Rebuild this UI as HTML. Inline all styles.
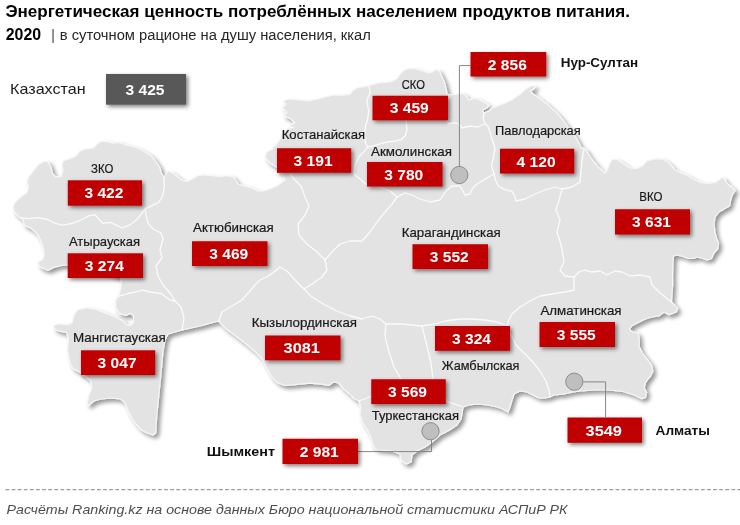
<!DOCTYPE html>
<html lang="ru"><head><meta charset="utf-8"><title>Энергетическая ценность</title>
<style>
html,body{margin:0;padding:0;background:#fff;}
body{width:740px;height:525px;overflow:hidden;position:relative;font-family:"Liberation Sans",sans-serif;}
svg{position:absolute;left:0;top:0;}
.t{font-family:"Liberation Sans",sans-serif;}
</style></head><body>
<svg width="740" height="525" viewBox="0 0 740 525">
<defs>
<filter id="ms" x="-5%" y="-5%" width="110%" height="112%"><feGaussianBlur in="SourceAlpha" stdDeviation="2.2"/><feOffset dx="2.5" dy="3"/><feComponentTransfer><feFuncA type="linear" slope="0.42"/></feComponentTransfer><feMerge><feMergeNode/><feMergeNode in="SourceGraphic"/></feMerge></filter>
<filter id="bs" x="-10%" y="-20%" width="125%" height="160%"><feGaussianBlur in="SourceAlpha" stdDeviation="2.2"/><feOffset dx="2.4" dy="2.4"/><feComponentTransfer><feFuncA type="linear" slope="0.52"/></feComponentTransfer><feMerge><feMergeNode/><feMergeNode in="SourceGraphic"/></feMerge></filter>
</defs>
<polygon points="13.3,206.2 15.2,202.4 21,196.7 26.7,193 28.6,187 26.7,181.4 29.5,175.7 33.3,171 38,165.2 43,161.4 47.6,161.4 50.5,166.2 52.4,173 55.2,176.7 61,176.7 63,171 62,164.3 63.8,160.5 70.5,158.6 76.2,155.7 80,151 85.7,149 93.3,148 97,144.3 101,141.4 106.7,141.4 112.4,143.3 118,142.4 123.8,144.3 131.4,146.2 137.6,148 145.2,152 151,155.7 155.7,161.4 159.5,167 161.4,173 164,178.6 166,174 168,171 173,173 177.6,176.7 182.4,180.5 187,181.4 193,178.6 197.6,175.7 204.3,174.8 212,175.7 219.5,176.7 227,175.7 233,176.7 235.7,180.5 238.6,184.3 244.3,186.2 252,188 257.6,191 263.3,191 270,189 277,186 285,180 283,174 278,168 270,163 265,157 267,152 272,149.5 276.7,143.8 281,138 283,132 288,128.5 293.8,127.6 289,125.7 294.8,122.9 291,119 283.3,115.2 287,112.4 282.4,107.6 286.2,104.8 283.3,101 289,99 298.6,100 308,101 317.6,99 325.2,97 333,95.2 342.4,95.2 350,94.3 353,90.5 357.6,87.6 365.2,86.7 371,84.8 378.6,83 385.4,82.4 392,81.5 397.6,78.5 400,74 404.5,70 409.7,68.5 416.5,69 423,71 428.6,73 432.7,71.6 435.4,69.6 438.8,70.3 440.8,74.3 442.8,78.4 445,83.8 446.2,89.2 447,94 449.7,95 455.7,94.3 462.6,93.4 467,97 468.6,100.3 473,98.6 477,98.6 481.4,101 486.6,103.7 489,105.4 486.6,108 482.3,110.6 484,113 488.3,111.4 492.6,108 498.6,105.4 505.4,103 511.4,100.3 515.7,97 521,93.4 526,88.6 531,86 535.5,86 533.3,89.3 530.5,91.3 533,94 539.7,98.6 546.6,103.7 548.6,105.7 556.2,112.4 562,119 567.6,126.7 573.3,133.3 578,141 581,147.6 585.7,149.5 588.6,154.3 592.4,160 597,165.7 602,170.5 605,173.4 608,168.5 610,163 611.8,159.8 616.4,159 622.4,163 629.5,167.8 636.6,168.5 642.7,165.6 646.8,161 654.9,158.8 663,159 669,163 675.1,170 681.2,173 687.3,175.2 693.4,179.2 699.5,182.3 707.6,183.3 715.7,182.3 719.7,179.2 721.8,177.2 724.8,179.2 726.8,183.3 731.9,187.3 735,190.5 731.9,195.7 730.5,201 729.5,206 724,209 719,212 715,217 714,224 715,233 716.5,238.5 718.5,243 718,248.5 714,253 711.5,258.5 707,260 701.5,258 697,257 693,258.5 688.5,258.5 683,256.5 677,255 673.5,256 673,261.5 672.5,275 672.6,285 671.4,302 677.6,308.4 676.3,312 669,314.6 664,312 659,315.8 651.6,317 644.2,319.5 636.7,323.2 631.8,325.7 629.3,329.4 633,332 638,333 639.2,339.3 639.2,346.7 643,354.2 648,360.3 651.6,365.3 652.8,371.5 650.3,376.4 648,379 645.4,382.6 644.2,387.6 646.6,392.5 645.4,397.5 641.7,398.7 634.3,395 622,391.3 609.5,390 595,390 580,391 573,392 564,394 554,395 550,397 545,398 539,398 533,395 527,392 520,391 514,394 512,400 510,407 508,412 503,409 497,407 488,405 478,404 469,405 463,407 462,413 461,419 457,425 451,429 446,432 440,435 432,442 425,447 417,451 412,455 411,462 406,464 401,460 400,454 392,451 382,450 376,449.5 372.4,444 370.5,436 366.7,428.6 363,423 360,415 361,407.6 359,401 354,398.5 350.9,395 343.6,389 338.7,383 333.8,381.8 329,385.3 321.7,384.1 309.5,383.2 297.3,384.3 285.2,385.5 277.9,383 271.8,376.8 266.9,368.3 262,358.5 254.7,351.2 246.2,344 236.5,336.6 226.8,329.3 218.5,321 200,326 182,330 168,334 165,340 163,351 160.5,378 158.6,397 156.7,416 155.7,433 153,435 147,433 141,429.5 136,424 132,418 128,410.5 125,403 120.5,399 111,398 101,399 94,401 88,405.5 87,403 89,395 92,387.5 91,381 86,377 80.5,372.5 73,368.5 70,363 67.6,351 68.4,338 66.5,332.3 60.8,331.4 55.1,329.5 53.2,325.7 58.9,323.8 68.4,324.7 72.2,322.8 74,315.3 77.8,309.6 87.3,307.7 96.8,309.6 106.2,313.4 115.7,317.2 123.2,321 126,324.7 129.9,325.7 133.6,322.8 133.6,316.2 130.8,313.4 126,315.3 119.5,313.4 115.7,307.7 115.7,300 118.5,296.4 120.5,290 121.3,285 121.4,278 100,270 67,265 61.4,265.5 53.8,267.4 48,270.2 45.2,269.3 39.5,266.4 37.6,262.6 42.4,259.8 44.3,255 43.3,247.4 40.5,239.8 36.7,233 31,228.3 24.5,225.3 22.9,219.5 19,216.7 14.3,212" fill="#e3e3e3" stroke="#f6f6f6" stroke-width="1.2" stroke-linejoin="round" filter="url(#ms)"/>
<g fill="none" stroke="#fbfbfb" stroke-width="1.3" stroke-linejoin="round" stroke-linecap="round">
<polyline points="20,217.6 28.6,218.6 38,217.6 47.6,219.5 55.2,223.3 63,225.2 72.4,223.3 82,219.5 89.5,215.7 95.2,214.8 99,219.5 103,223.3 110.5,222.4 116.2,225.2 122,228 129.5,225.2 137,219.5 145.2,209"/>
<polyline points="164,178.6 164.3,187 162.4,196.7 158.6,202.4 151,206.2 145.2,209 146.2,215.7 148,223.3 153,229 161,233 163,239 160,250 162,258 156,266 158,276 163,285 170,293 175,301 181,307 184,318 182,330"/>
<polyline points="118.5,296.4 128,293.5 135,292 142,290 150,292 161,293.5 170,300 175,301"/>
<polyline points="290,174 295,180 301,186 305,197 309,206 305,215 298,224 299,235 307,244 317,252 325,260 327,270 322,277 312,284 304,289"/>
<polyline points="304,289 295,280 287,271 280,267 274,272 267,277 260,280 255,285 249,292 242,300 232,306 222,312 218.5,321"/>
<polyline points="325,260 332,252 340,244 350,241 362,241 370,232 377,222 385,212 392,204 397,197"/>
<polyline points="397,197 390,191 380,187 367,185 360,179 354,174 355,165 359.5,156 364,151.6 367.6,147"/>
<polyline points="369,85.7 370,92.4 367,100 368,107.6 369,110 367.6,119 365.4,126.4 364.7,133.8 365.4,142.7 367.6,147"/>
<polyline points="367.6,147 374.3,145.7 381.8,143.4 387.7,142 395,141.2 401,139.7 405.5,135.3 407,129.3 406.3,123.4 405.5,119 415,112 430,110 445,116 448.6,124 454.6,122.6 459,124 462,128 470,126 478,127 485,123.5"/>
<polyline points="397,197 405,193 412,195 420,199 430,202 440,200 446,191 452,186 460,186 465,195 470,194 472,189 477,184 485,179 494,174"/>
<polyline points="484,113 483,118 485,123.5 488.3,127 490,132 492,139 494,145 495,149 493.6,156 491.6,165.7 494,174"/>
<polyline points="494,174 495.7,180.5 498.4,186 504,189.3 512,191.4 514.6,195.4 516,201 525,199 535,194 545,190 555,187 562,189"/>
<polyline points="584,149 582,160 580,182 572,187 562,189"/>
<polyline points="562,189 559,200 556,210 560,220 557,232 561,245 563,255 564,262 560,270 565,276 574,277"/>
<polyline points="671.4,302 665,297 657,290 652,285 650,277 640,275 630,276 622,272 615,271 607,275 600,271 592,272 585,270 579,272 574,277"/>
<polyline points="574,277 574,290 565,292 552,294 540,296 530,301 520,307 512,314 509,320 507,326"/>
<polyline points="507,326 497,322 485,320 472,319 460,319 445,321 435,324 422,326 412,325 400,324 386,324"/>
<polyline points="304,289 312,297 325,305 337,311 350,316 362,319 372,316 380,319 386,324"/>
<polyline points="386,324 385,335 387,345 390,355 394,367 401,379 390,388 375,395 359,401"/>
<polyline points="422,326 425,338 428,350 431,363 433,379 440,392 448,402 462,406.5"/>
<polyline points="507,326 511,335 516,345 523,352 531,360 540,371 546,381 549,390 550,397"/>
</g>
<g fill="none" stroke="#868686" stroke-width="1">
<polyline points="470.5,65.6 459.4,65.6 459.4,167"/>
<polyline points="583,381.9 605.6,381.9 605.6,417"/>
<polyline points="431.5,439 431.5,451.6 358,451.6"/>
</g>
<circle cx="459.3" cy="175" r="8.6" fill="#bfbfbf" stroke="#8c8c8c" stroke-width="1"/>
<circle cx="574.3" cy="381.7" r="8.6" fill="#bfbfbf" stroke="#8c8c8c" stroke-width="1"/>
<circle cx="430.5" cy="431.2" r="8.6" fill="#bfbfbf" stroke="#8c8c8c" stroke-width="1"/>
<rect x="106" y="74" width="80" height="30.700000000000003" fill="#595959" filter="url(#bs)"/>
<text class="t" x="125.50" y="94.95" font-size="14.8" font-weight="bold" fill="#fff" textLength="39" lengthAdjust="spacingAndGlyphs">3 425</text>
<rect x="67.8" y="180.3" width="74.2" height="25.399999999999995" fill="#c00000" filter="url(#bs)"/>
<text class="t" x="84.40" y="198.45" font-size="14.8" font-weight="bold" fill="#fff" textLength="39" lengthAdjust="spacingAndGlyphs">3 422</text>
<rect x="67.7" y="253.3" width="75.3" height="24.699999999999978" fill="#c00000" filter="url(#bs)"/>
<text class="t" x="84.85" y="271.10" font-size="14.8" font-weight="bold" fill="#fff" textLength="39" lengthAdjust="spacingAndGlyphs">3 274</text>
<rect x="81" y="350.3" width="74.19999999999999" height="24.8" fill="#c00000" filter="url(#bs)"/>
<text class="t" x="97.60" y="368.15" font-size="14.8" font-weight="bold" fill="#fff" textLength="39" lengthAdjust="spacingAndGlyphs">3 047</text>
<rect x="192" y="241.25" width="75.5" height="24.8" fill="#c00000" filter="url(#bs)"/>
<text class="t" x="209.25" y="259.10" font-size="14.8" font-weight="bold" fill="#fff" textLength="39" lengthAdjust="spacingAndGlyphs">3 469</text>
<rect x="277" y="148.25" width="74.25" height="24.55" fill="#c00000" filter="url(#bs)"/>
<text class="t" x="293.62" y="165.97" font-size="14.8" font-weight="bold" fill="#fff" textLength="39" lengthAdjust="spacingAndGlyphs">3 191</text>
<rect x="372.5" y="95.75" width="75.5" height="24.55" fill="#c00000" filter="url(#bs)"/>
<text class="t" x="389.75" y="113.47" font-size="14.8" font-weight="bold" fill="#fff" textLength="39" lengthAdjust="spacingAndGlyphs">3 459</text>
<rect x="470.5" y="52" width="75.75" height="24.55" fill="#c00000" filter="url(#bs)"/>
<text class="t" x="487.88" y="69.72" font-size="14.8" font-weight="bold" fill="#fff" textLength="39" lengthAdjust="spacingAndGlyphs">2 856</text>
<rect x="367" y="162" width="75.5" height="24.55" fill="#c00000" filter="url(#bs)"/>
<text class="t" x="384.25" y="179.72" font-size="14.8" font-weight="bold" fill="#fff" textLength="39" lengthAdjust="spacingAndGlyphs">3 780</text>
<rect x="500" y="148.75" width="74.25" height="24.8" fill="#c00000" filter="url(#bs)"/>
<text class="t" x="516.62" y="166.60" font-size="14.8" font-weight="bold" fill="#fff" textLength="39" lengthAdjust="spacingAndGlyphs">4 120</text>
<rect x="615" y="209.25" width="75" height="25.3" fill="#c00000" filter="url(#bs)"/>
<text class="t" x="632.00" y="227.35" font-size="14.8" font-weight="bold" fill="#fff" textLength="39" lengthAdjust="spacingAndGlyphs">3 631</text>
<rect x="412.5" y="244.25" width="75.5" height="24.8" fill="#c00000" filter="url(#bs)"/>
<text class="t" x="429.75" y="262.10" font-size="14.8" font-weight="bold" fill="#fff" textLength="39" lengthAdjust="spacingAndGlyphs">3 552</text>
<rect x="265" y="335.5" width="75.5" height="24.8" fill="#c00000" filter="url(#bs)"/>
<text class="t" x="283.55" y="353.35" font-size="14.8" font-weight="bold" fill="#fff" textLength="36.4" lengthAdjust="spacingAndGlyphs">3081</text>
<rect x="435" y="326" width="75" height="24.8" fill="#c00000" filter="url(#bs)"/>
<text class="t" x="452.00" y="343.85" font-size="14.8" font-weight="bold" fill="#fff" textLength="39" lengthAdjust="spacingAndGlyphs">3 324</text>
<rect x="539.5" y="322" width="75.5" height="25.05" fill="#c00000" filter="url(#bs)"/>
<text class="t" x="556.75" y="339.98" font-size="14.8" font-weight="bold" fill="#fff" textLength="39" lengthAdjust="spacingAndGlyphs">3 555</text>
<rect x="371.25" y="379.25" width="74.5" height="24.8" fill="#c00000" filter="url(#bs)"/>
<text class="t" x="388.00" y="397.10" font-size="14.8" font-weight="bold" fill="#fff" textLength="39" lengthAdjust="spacingAndGlyphs">3 569</text>
<rect x="282.5" y="438.75" width="75.5" height="25.3" fill="#c00000" filter="url(#bs)"/>
<text class="t" x="299.75" y="456.85" font-size="14.8" font-weight="bold" fill="#fff" textLength="39" lengthAdjust="spacingAndGlyphs">2 981</text>
<rect x="567.5" y="417.5" width="74.5" height="25.3" fill="#c00000" filter="url(#bs)"/>
<text class="t" x="585.55" y="435.60" font-size="14.8" font-weight="bold" fill="#fff" textLength="36.4" lengthAdjust="spacingAndGlyphs">3549</text>
<text class="t" x="91.0" y="172.9" font-size="12.4" fill="#1a1a1a" stroke="#1a1a1a" stroke-width="0.2" textLength="22.25" lengthAdjust="spacingAndGlyphs">ЗКО</text>
<text class="t" x="69.0" y="246.4" font-size="12.4" fill="#1a1a1a" stroke="#1a1a1a" stroke-width="0.2" textLength="71.0" lengthAdjust="spacingAndGlyphs">Атырауская</text>
<text class="t" x="73.0" y="341.65" font-size="12.4" fill="#1a1a1a" stroke="#1a1a1a" stroke-width="0.2" textLength="92.75" lengthAdjust="spacingAndGlyphs">Мангистауская</text>
<text class="t" x="193.0" y="231.65" font-size="12.4" fill="#1a1a1a" stroke="#1a1a1a" stroke-width="0.2" textLength="80.75" lengthAdjust="spacingAndGlyphs">Актюбинская</text>
<text class="t" x="281.75" y="139.15" font-size="12.4" fill="#1a1a1a" stroke="#1a1a1a" stroke-width="0.2" textLength="83.25" lengthAdjust="spacingAndGlyphs">Костанайская</text>
<text class="t" x="401.75" y="89.15" font-size="12.4" fill="#1a1a1a" stroke="#1a1a1a" stroke-width="0.2" textLength="23.25" lengthAdjust="spacingAndGlyphs">СКО</text>
<text class="t" x="371.0" y="156.3" font-size="12.4" fill="#1a1a1a" stroke="#1a1a1a" stroke-width="0.2" textLength="81.0" lengthAdjust="spacingAndGlyphs">Акмолинская</text>
<text class="t" x="495.0" y="135.4" font-size="12.4" fill="#1a1a1a" stroke="#1a1a1a" stroke-width="0.2" textLength="85.75" lengthAdjust="spacingAndGlyphs">Павлодарская</text>
<text class="t" x="639.25" y="200.9" font-size="12.4" fill="#1a1a1a" stroke="#1a1a1a" stroke-width="0.2" textLength="23.25" lengthAdjust="spacingAndGlyphs">ВКО</text>
<text class="t" x="401.75" y="237.4" font-size="12.4" fill="#1a1a1a" stroke="#1a1a1a" stroke-width="0.2" textLength="99.0" lengthAdjust="spacingAndGlyphs">Карагандинская</text>
<text class="t" x="251.75" y="327.4" font-size="12.4" fill="#1a1a1a" stroke="#1a1a1a" stroke-width="0.2" textLength="105.25" lengthAdjust="spacingAndGlyphs">Кызылординская</text>
<text class="t" x="441.75" y="369.9" font-size="12.4" fill="#1a1a1a" stroke="#1a1a1a" stroke-width="0.2" textLength="77.75" lengthAdjust="spacingAndGlyphs">Жамбылская</text>
<text class="t" x="540.5" y="315.4" font-size="12.4" fill="#1a1a1a" stroke="#1a1a1a" stroke-width="0.2" textLength="81" lengthAdjust="spacingAndGlyphs">Алматинская</text>
<text class="t" x="371.75" y="420.4" font-size="12.4" fill="#1a1a1a" stroke="#1a1a1a" stroke-width="0.2" textLength="87.25" lengthAdjust="spacingAndGlyphs">Туркестанская</text>
<text class="t" x="560.7" y="67" font-size="13.7" font-weight="bold" fill="#111" textLength="77.39999999999998" lengthAdjust="spacingAndGlyphs">Нур-Султан</text>
<text class="t" x="655.5" y="435" font-size="13.7" font-weight="bold" fill="#111" textLength="54.5" lengthAdjust="spacingAndGlyphs">Алматы</text>
<text class="t" x="206.75" y="455.75" font-size="13.7" font-weight="bold" fill="#111" textLength="68.25" lengthAdjust="spacingAndGlyphs">Шымкент</text>
<text class="t" x="5.4" y="17" font-size="16" font-weight="bold" fill="#000" textLength="624.5" lengthAdjust="spacingAndGlyphs">Энергетическая ценность потреблённых населением продуктов питания.</text>
<text class="t" x="5.8" y="40.2" font-size="16" font-weight="bold" fill="#000" textLength="35.3" lengthAdjust="spacingAndGlyphs">2020</text>
<text class="t" x="51.2" y="40.2" font-size="13.8" fill="#404040">|</text>
<text class="t" x="59.8" y="40.2" font-size="13.8" fill="#262626" textLength="311" lengthAdjust="spacingAndGlyphs">в суточном рационе на душу населения, ккал</text>
<text class="t" x="10.1" y="94.2" font-size="15" fill="#1a1a1a" textLength="75.5" lengthAdjust="spacingAndGlyphs">Казахстан</text>
<line x1="5.5" y1="489.6" x2="740" y2="489.6" stroke="#9c9c9c" stroke-width="1.2" stroke-dasharray="3.8 2.3"/>
<text class="t" x="6.5" y="513.6" font-size="13.5" font-style="italic" fill="#4d4d4d" textLength="561" lengthAdjust="spacingAndGlyphs">Расчёты Ranking.kz на основе данных Бюро национальной статистики АСПиР РК</text>
</svg>
</body></html>
